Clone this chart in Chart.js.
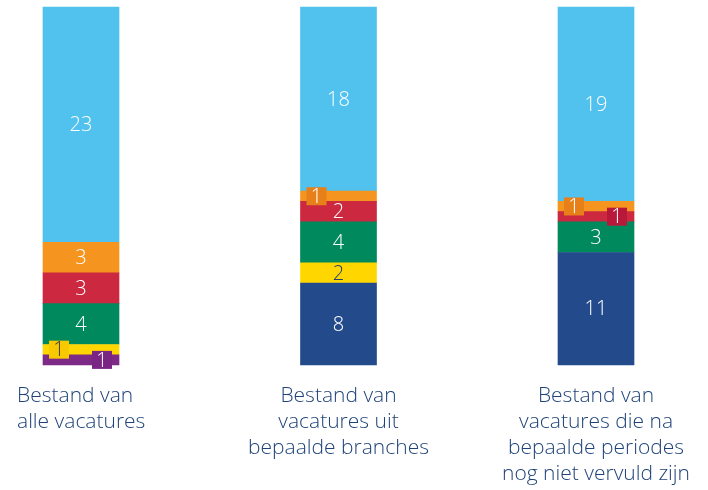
<!DOCTYPE html>
<html>
<head>
<meta charset="utf-8">
<script src="https://cdn.jsdelivr.net/npm/chart.js@4.4.1/dist/chart.umd.min.js"></script>
<style>
  html, body { margin: 0; padding: 0; background: #fff; }
  #wrap { width: 708px; height: 490px; }
</style>
</head>
<body>
<div id="wrap"><canvas id="chart"></canvas></div>
<script>
const categories = [
  ['Bestand van', 'alle vacatures'],
  ['Bestand van', 'vacatures uit', 'bepaalde branches'],
  ['Bestand van', 'vacatures die na', 'bepaalde periodes', 'nog niet vervuld zijn']
]

// stacked from bottom to top
const purple = [1, null, null]
const darkBlue = [null, 8, 11]
const yellow = [1, 2, null]
const green = [4, 4, 3]
const red = [3, 2, 1]
const orange = [3, 1, 1]
const lightBlue = [23, 18, 19]

const FONT = '"Open Sans", Roboto, sans-serif'

// value labels, small ones (1) get a little box next to the bar centre
const segmentLabels = {
  id: 'segmentLabels',
  afterDatasetsDraw(chart) {
    const ctx = chart.ctx
    ctx.save()
    ctx.font = '300 20px ' + FONT
    ctx.textAlign = 'center'
    ctx.textBaseline = 'middle'
    chart.data.labels.forEach((_, i) => {
      let small = 0
      for (let d = chart.data.datasets.length - 1; d >= 0; d--) {
        const ds = chart.data.datasets[d]
        const v = ds.data[i]
        if (v == null) continue
        const bar = chart.getDatasetMeta(d).data[i]
        const cy = (bar.y + bar.base) / 2
        if (v <= 1) {
          const cx = bar.x + (small === 0 ? -22 : 21)
          small++
          ctx.fillStyle = ds.boxColor
          ctx.fillRect(cx - 10, cy - 9, 20, 18)
          ctx.fillStyle = ds.boxText
          ctx.fillText(v, cx, cy + 1)
        } else {
          ctx.fillStyle = ds.textColor
          ctx.fillText(v, bar.x, cy + 1)
        }
      }
    })
    ctx.restore()
  }
}

// category captions under the bars
const captions = {
  id: 'captions',
  afterDraw(chart) {
    const ctx = chart.ctx
    const xs = chart.scales.x
    const top = chart.chartArea.bottom + 31
    ctx.save()
    ctx.font = '300 21px ' + FONT
    ctx.fillStyle = '#1f4378'
    ctx.textBaseline = 'middle'
    categories.forEach((lines, i) => {
      const x = xs.getPixelForValue(i)
      ctx.textAlign = i === 0 ? 'left' : 'center'
      lines.forEach((line, j) => {
        ctx.fillText(line, i === 0 ? x - 64 : x, top + j * 26)
      })
    })
    ctx.restore()
  }
}

function ds(data, color, textColor, boxColor, boxText) {
  return {
    data: data,
    backgroundColor: color,
    borderWidth: 0,
    barThickness: 76,
    clip: false,
    textColor: textColor,
    boxColor: boxColor,
    boxText: boxText
  }
}

const ctx = document.getElementById('chart').getContext('2d')
// eslint-disable-next-line no-unused-vars
const chart = new Chart(ctx, {
  type: 'bar',
  data: {
    labels: categories.map(c => c.join(' ')),
    datasets: [
      ds(purple, '#7c2a86', '#ffffff', '#7a2584', '#ffffff'),
      ds(darkBlue, '#234b8b', '#ffffff', '#1d3f78', '#ffffff'),
      ds(yellow, '#ffd600', '#213f72', '#f8c800', '#3a3a3a'),
      ds(green, '#00895c', '#ffffff', '#007a50', '#ffffff'),
      ds(red, '#cc2840', '#ffffff', '#b8193a', '#ffffff'),
      ds(orange, '#f5951f', '#ffffff', '#e8801a', '#ffffff'),
      ds(lightBlue, '#51c1ed', '#ffffff', '#3fb0de', '#ffffff')
    ]
  },
  options: {
    responsive: true,
    maintainAspectRatio: false,
    animation: false,
    layout: {
      padding: { top: 7, bottom: 125, left: 81, right: 112 }
    },
    plugins: {
      legend: { display: false },
      tooltip: { enabled: false }
    },
    scales: {
      x: {
        stacked: true,
        display: false,
        offset: false
      },
      y: {
        stacked: true,
        display: false,
        min: 0,
        max: 35
      }
    }
  },
  plugins: [segmentLabels, captions]
})
</script>
</body>
</html>
